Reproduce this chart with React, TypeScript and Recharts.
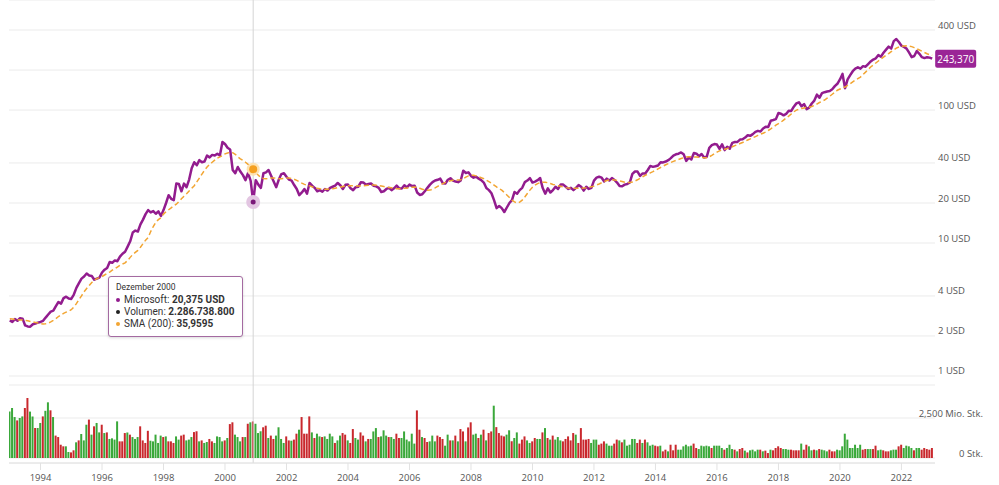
import { ComposedChart, Line, Bar, Cell, XAxis, YAxis, CartesianGrid, ReferenceLine, ReferenceDot } from "recharts";

const FONT = '"Open Sans", sans-serif';
const TIP_FONT = "Roboto, sans-serif";
const PURPLE = "#921c8e";
const ORANGE = "#f2a532";
const GREEN = "#3aa83a";
const RED = "#c9282d";

// monthly closes in USD, Jan 1993 .. Jan 2023
const close9397 = [
  2.62, 2.55, 2.68, 2.6, 2.72, 2.7, 2.4, 2.36, 2.35, 2.45, 2.48, 2.52,
  2.55, 2.6, 2.75, 2.9, 3.05, 3.1, 3.35, 3.6, 3.5, 3.85, 3.95, 3.82,
  3.8, 4.1, 4.6, 5.0, 5.4, 5.6, 5.9, 5.7, 5.65, 5.3, 5.4, 5.5,
  6.0, 6.3, 6.5, 7.2, 7.1, 7.4, 7.3, 7.9, 8.3, 8.6, 9.4, 10.3,
  12.0, 12.4, 12.2, 13.8, 15.0, 16.5, 17.7, 17.0, 17.4, 16.6, 17.3, 16.0,
];
const close9802 = [
  17.7, 20.0, 22.9, 21.5, 21.0, 28.0, 27.8, 24.5, 28.0, 26.3, 30.0, 36.5,
  40.5, 38.5, 42.0, 40.5, 41.0, 45.5, 44.0, 46.0, 45.5, 47.0, 45.5, 57.5,
  55.5, 52.0, 50.5, 35.5, 33.5, 37.3, 34.5, 32.4, 29.7, 33.6, 29.5, 20.375,
  29.7, 27.5, 26.0, 33.5, 34.0, 35.4, 32.0, 29.0, 26.3, 30.0, 33.0, 33.5,
  31.5, 30.0, 29.5, 27.3, 25.5, 22.9, 24.0, 25.5, 23.5, 28.3, 27.0, 26.0,
];
const close0307 = [
  24.5, 25.0, 24.3, 25.5, 24.8, 26.0, 26.5, 27.0, 28.3, 27.2, 25.5, 27.4,
  27.5, 25.8, 25.0, 26.3, 26.5, 28.6, 28.5, 27.5, 27.8, 28.0, 27.0, 26.7,
  26.0, 24.2, 24.5, 25.5, 26.0, 25.0, 25.8, 27.0, 25.8, 25.7, 27.2, 26.2,
  27.5, 26.8, 27.0, 24.0, 23.0, 23.3, 24.5, 26.0, 27.5, 28.7, 29.5, 29.9,
  30.5, 28.2, 28.0, 29.9, 30.7, 29.5, 29.0, 28.7, 29.5, 35.0, 33.6, 34.0,
];
const close0812 = [
  32.0, 31.0, 31.5, 30.5, 29.7, 28.5, 25.9, 25.0, 23.7, 21.0, 18.3, 19.0,
  18.3, 17.1, 18.5, 20.0, 21.0, 24.2, 23.5, 25.0, 26.0, 28.7, 29.5, 30.8,
  28.5, 29.0, 29.7, 30.8, 25.9, 23.5, 25.8, 24.0, 25.0, 26.5, 25.5, 27.5,
  27.5, 26.5, 25.5, 26.0, 25.0, 26.0, 27.3, 26.5, 24.8, 26.5, 25.5, 26.0,
  29.5, 31.0, 31.5, 31.0, 29.0, 30.5, 29.5, 30.8, 29.8, 28.5, 26.8, 26.7,
];
const close1317 = [
  27.5, 27.8, 28.6, 33.1, 34.5, 34.5, 32.0, 33.4, 33.3, 35.4, 38.0, 37.4,
  37.8, 38.3, 40.5, 40.4, 41.0, 42.0, 43.5, 45.5, 46.5, 47.0, 48.0, 46.5,
  41.5, 43.9, 42.5, 47.5, 47.0, 45.0, 46.7, 44.0, 44.5, 52.0, 54.4, 55.5,
  55.0, 51.0, 55.2, 50.0, 53.0, 51.2, 56.7, 57.5, 57.6, 60.0, 60.3, 62.1,
  64.7, 64.0, 65.9, 68.5, 69.8, 68.9, 72.7, 74.8, 74.5, 83.2, 84.2, 85.5,
];
const close1823 = [
  95.0, 93.8, 91.3, 93.5, 98.8, 98.6, 106.1, 112.3, 114.4, 106.8, 110.9, 101.6,
  104.4, 112.0, 117.9, 130.6, 123.7, 134.0, 136.3, 137.9, 139.0, 143.4, 151.4, 157.7,
  170.0, 187.0, 146.0, 170.0, 183.0, 196.0, 205.0, 210.0, 205.0, 214.0, 212.0, 222.0,
  232, 240, 245, 259, 252, 270, 285, 300, 290, 330, 342, 325,
  305, 298, 290, 270, 250, 255, 278, 265, 250, 246, 250, 248,
  243.37,
];

// 200-day moving average as drawn
const sma9397 = [
  2.7, 2.68, 2.66, 2.65, 2.64, 2.64, 2.62, 2.6, 2.57, 2.55, 2.53, 2.5,
  2.47, 2.46, 2.47, 2.5, 2.55, 2.62, 2.7, 2.8, 2.88, 2.96, 3.02, 3.08,
  3.15, 3.3, 3.5, 3.75, 4.0, 4.3, 4.55, 4.8, 5.05, 5.25, 5.4, 5.5,
  5.6, 5.75, 5.9, 6.05, 6.25, 6.4, 6.6, 6.8, 6.95, 7.1, 7.4, 7.8,
  8.2, 8.5, 8.8, 9.3, 9.9, 10.5, 11.0, 12.2, 13.3, 14.3, 15.0, 15.5,
];
const sma9802 = [
  16.5, 17.2, 17.8, 18.4, 19.0, 19.6, 20.5, 21.5, 22.5, 23.5, 24.6, 25.8,
  27.0, 28.8, 30.8, 33.0, 35.2, 37.3, 39.0, 40.5, 42.0, 43.5, 44.5, 45.5,
  46.8, 47.6, 48.0, 47.8, 46.5, 44.5, 43.0, 41.8, 40.5, 39.0, 37.5, 35.9595,
  34.0, 32.3, 31.2, 30.6, 30.4, 30.6, 30.8, 30.9, 30.7, 30.5, 30.5, 30.6,
  30.8, 30.8, 30.6, 30.2, 29.6, 28.9, 28.2, 27.6, 27.3, 26.9, 26.5, 26.1,
];
const sma0307 = [
  25.8, 25.6, 25.5, 25.4, 25.4, 25.5, 25.6, 25.8, 26.1, 26.3, 26.6, 26.9,
  27.0, 27.0, 26.9, 26.8, 26.8, 26.9, 27.0, 27.1, 27.2, 27.3, 27.3, 27.2,
  27.0, 26.8, 26.6, 26.4, 26.2, 26.0, 25.8, 25.6, 25.6, 25.7, 25.8, 25.9,
  26.1, 26.3, 26.4, 26.2, 25.8, 25.4, 25.0, 24.9, 25.0, 25.4, 26.0, 26.7,
  27.3, 28.0, 28.6, 29.0, 29.4, 29.7, 29.8, 29.8, 29.9, 30.5, 31.3, 32.0,
];
const sma0812 = [
  32.3, 32.3, 32.0, 31.5, 31.0, 30.5, 29.7, 29.0, 28.2, 27.3, 26.4, 25.6,
  25.0, 24.0, 23.0, 22.0, 21.0, 20.4, 20.0, 20.3, 21.0, 22.2, 23.6, 25.0,
  26.3, 27.3, 28.0, 28.5, 28.7, 28.7, 28.4, 28.0, 27.6, 27.3, 27.0, 26.7,
  26.4, 26.1, 25.9, 25.8, 25.8, 25.8, 25.8, 25.8, 25.9, 26.0, 26.2, 26.5,
  26.8, 27.3, 27.8, 28.4, 29.0, 29.5, 29.8, 29.9, 29.8, 29.6, 29.3, 29.0,
];
const sma1317 = [
  28.7, 28.5, 28.5, 28.8, 29.3, 29.9, 30.7, 31.5, 32.3, 33.0, 33.7, 34.4,
  35.2, 36.1, 37.0, 37.9, 38.8, 39.6, 40.4, 41.1, 41.8, 42.5, 43.2, 43.8,
  44.3, 44.5, 44.5, 44.4, 44.3, 44.2, 44.0, 43.7, 43.8, 44.5, 45.6, 47.0,
  48.3, 49.3, 50.0, 50.7, 51.4, 52.3, 53.0, 54.0, 55.0, 56.0, 57.0, 58.3,
  59.5, 60.7, 62.0, 63.2, 64.5, 65.8, 67.0, 68.3, 70.2, 72.3, 74.6, 77.0,
];
const sma1823 = [
  79.0, 81.2, 84.0, 87.0, 90.0, 93.5, 97.0, 100.0, 101.5, 102.8, 103.8, 104.5,
  105, 106.5, 108.5, 111, 114, 116.5, 119, 123, 127, 131.5, 136, 141,
  144, 146.5, 149, 153.5, 158, 163, 168, 172.5, 177, 185, 193, 202,
  211, 218, 226, 234, 242, 250, 258, 266, 275, 283, 292, 298,
  302, 303, 304, 303, 300, 295, 289, 283, 277, 271, 265, 261,
  258,
];

// monthly volume, million shares
const vol9397 = [
  2900, 3125, 2560, 2350, 2500, 2600, 3125, 3750, 2900, 2600, 1875, 1875,
  2190, 2600, 2950, 3480, 2980, 2560, 1400, 1310, 830, 730, 730, 375,
  350, 480, 980, 1100, 1500, 1100, 2080, 2400, 1460, 1980, 2190, 1600,
  2080, 1560, 1600, 1190, 1230, 1150, 2290, 1040, 1040, 1560, 1600, 1460,
  1310, 1190, 1310, 1980, 1100, 940, 1700, 1080, 1040, 1460, 940, 1400,
];
const vol9802 = [
  1310, 1350, 1040, 1040, 940, 1350, 1150, 1400, 1460, 1100, 1150, 1310,
  1620, 1670, 1040, 1100, 940, 1000, 1190, 1040, 940, 1350, 1310, 1040,
  1100, 1250, 2120, 2230, 1460, 1310, 1040, 1310, 1310, 2140, 2230, 2286.7388,
  2140, 1560, 1670, 1920, 2020, 1250, 1400, 1190, 1400, 1920, 1190, 940,
  1350, 1100, 1080, 1150, 1520, 1770, 2560, 1520, 1520, 2600, 1600, 1250,
];
const vol0307 = [
  1520, 1350, 1310, 1350, 1190, 1520, 1350, 940, 1100, 1400, 1560, 1460,
  1100, 940, 1810, 1250, 1150, 1600, 1400, 1040, 1190, 1190, 1660, 1870,
  1310, 1350, 1730, 1400, 1310, 1310, 1190, 1520, 1250, 1250, 1660, 1150,
  1040, 1520, 900, 2975, 1770, 1310, 1250, 1000, 1040, 1400, 1040, 1400,
  1310, 1190, 770, 1460, 1100, 1100, 1400, 1040, 1810, 1660, 1040, 1910,
];
const vol0812 = [
  2230, 1460, 1520, 1250, 1460, 1770, 1100, 1560, 1660, 3270, 1930, 1560,
  1400, 1350, 1460, 1730, 1040, 1250, 1600, 900, 1150, 1350, 1100, 940,
  1040, 1250, 1190, 1190, 1600, 1870, 1250, 1150, 1400, 1150, 1310, 1100,
  1040, 1190, 1350, 1100, 1560, 1460, 940, 1870, 1150, 1150, 1190, 940,
  1150, 1150, 830, 900, 1040, 900, 770, 770, 900, 1150, 1100, 980,
];
const vol1317 = [
  1150, 770, 830, 1190, 1190, 940, 1150, 940, 1150, 980, 770, 830,
  770, 730, 770, 415, 520, 415, 830, 480, 830, 520, 520, 730,
  830, 730, 770, 900, 625, 560, 770, 730, 770, 730, 625, 770,
  770, 770, 625, 520, 625, 830, 560, 520, 415, 560, 625, 460,
  350, 480, 520, 415, 520, 520, 415, 460, 310, 520, 480, 625,
];
const vol1823 = [
  730, 625, 560, 560, 520, 520, 480, 480, 480, 900, 520, 830,
  730, 480, 520, 480, 560, 520, 480, 415, 520, 415, 415, 520,
  480, 730, 1520, 1150, 625, 625, 830, 625, 830, 520, 560, 560,
  560, 560, 770, 480, 520, 480, 415, 415, 480, 520, 520, 730,
  830, 625, 770, 730, 625, 480, 625, 625, 520, 625, 560, 520,
  625,
];

// bar colour per month: g = up, r = down
const volDir = [
  "gggrggrrggrg", "grggrgrrrrgg", "rrgrgggrgrgg", "rgrggggrrrgr", "gggrrrrggggg",
  "rgrrrggrrggg", "rrgrggrrgggg", "rgrrgggrgrgr", "gggrrgrrgggg", "rrgrrgrrrrgr",
  "ggrggggrggrr", "grrggrrgrggg", "rgggrggrrggg", "gggrrgrrgggr", "rrggrgrgrrgr",
  "rggrgrgrrgrr", "rrggrggrrrgg", "rrggrgrgrggg", "rrrrrgrrrrrg", "ggrrrgggrrgr",
  "gggggrrgrggg", "rrgrrgrrrggg", "gggrrgggggrg", "gggrgggrgrrg", "rggggrgrrgrr",
  "rrgggrrrrgrr", "ggrgrgggrrrg", "gggggggggrrg", "grrggrrrgggr", "rggggrggrrrr",
  "r",
].join("");

const yearTicks = [1994, 1996, 1998, 2000, 2002, 2004, 2006, 2008, 2010, 2012, 2014, 2016, 2018, 2020, 2022];
const priceTicks = [1, 2, 4, 10, 20, 40, 100, 200, 400];
const volTicks = [0, 2500];

const FIRST_YEAR = 1993;
const HOVER = 95; // Dezember 2000

const prices = [...close9397, ...close9802, ...close0307, ...close0812, ...close1317, ...close1823];
const smas = [...sma9397, ...sma9802, ...sma0307, ...sma0812, ...sma1317, ...sma1823];
const vols = [...vol9397, ...vol9802, ...vol0307, ...vol0812, ...vol1317, ...vol1823];

const data = prices.map((p, i) => ({ i, price: p, sma: smas[i], vol: vols[i], up: volDir[i] === "g" }));
const last = data[data.length - 1];
const hover = data[HOVER];

const X_DOMAIN = [-0.3, 361.1];
const yearPos = yearTicks.map((y) => (y - FIRST_YEAR) * 12);

const deNum = (v: number) => String(v).replace(".", ",");
const deInt = (v: number) => String(Math.round(v)).replace(/\B(?=(\d{3})+(?!\d))/g, ".");
const deThousands = (v: number) => String(v).replace(/\B(?=(\d{3})+(?!\d))/g, ",");

const PriceTick = ({ x, y, payload }: any) =>
  payload.value === 200 ? null : (
    <text x={x + 3} y={y - 5} fill="#555" fontSize={9.5} fontFamily={FONT} dominantBaseline="central" textAnchor="start">
      {payload.value} USD
    </text>
  );

const VolTick = ({ x, y, payload }: any) => (
  <text x={x + 48} y={y - 5} fill="#555" fontSize={9.5} fontFamily={FONT} dominantBaseline="central" textAnchor="end">
    {payload.value === 0 ? "0 Stk." : `${deThousands(payload.value)} Mio. Stk.`}
  </text>
);

const YearTick = ({ x, y, payload }: any) => (
  <text x={x} y={y + 5} fill="#555" fontSize={9.5} fontFamily={FONT} dominantBaseline="central" textAnchor="middle">
    {FIRST_YEAR + payload.value / 12}
  </text>
);

const HaloDot = (color: string, halo: string, r: number, rh: number) => ({ cx, cy }: any) => (
  <g>
    <circle cx={cx} cy={cy} r={rh} fill={halo} />
    <circle cx={cx} cy={cy} r={r} fill={color} />
  </g>
);

const ValueTag = ({ cx, cy }: any) => (
  <g>
    <rect x={cx + 3} y={cy - 9} width={41} height={18} rx={2} fill="#9a2596" />
    <text x={cx + 23.5} y={cy} fill="#fff" fontSize={10} fontFamily={FONT} textAnchor="middle" dominantBaseline="central">
      {deNum(last.price)}0
    </text>
  </g>
);

const Bullet = ({ color }: { color: string }) => (
  <span style={{ display: "inline-block", width: 4, height: 4, borderRadius: 2, background: color, marginRight: 4, verticalAlign: "middle" }} />
);

const tipRow = (top: number) => ({
  position: "absolute" as const,
  left: 7,
  top,
  fontSize: 10,
  lineHeight: "12px",
  fontFamily: TIP_FONT,
});

export default function App() {
  return (
    <div style={{ position: "absolute", left: 0, top: 0, width: 999, height: 485, background: "#fff", fontFamily: FONT }}>
      <div style={{ position: "absolute", left: 0, top: 0 }}>
        <ComposedChart width={999} height={385} data={data} margin={{ top: 0, right: 0, bottom: 0, left: 9 }}>
          <CartesianGrid vertical={false} stroke="#ebebeb" />
          <XAxis dataKey="i" type="number" domain={X_DOMAIN} allowDataOverflow hide />
          <YAxis
            orientation="right"
            scale="log"
            type="number"
            domain={[0.8555, 672.7]}
            allowDataOverflow
            ticks={priceTicks}
            width={64}
            axisLine={false}
            tickLine={false}
            tickSize={0}
            tickMargin={0}
            tick={<PriceTick />}
          />
          <ReferenceLine x={HOVER} stroke="#d5d5d5" />
          <Line type="linear" dataKey="price" stroke={PURPLE} strokeWidth={2.5} strokeLinejoin="round" dot={false} isAnimationActive={false} />
          <Line type="linear" dataKey="sma" stroke={ORANGE} strokeWidth={1.5} strokeDasharray="5 3" dot={false} isAnimationActive={false} />
          <ReferenceDot x={HOVER} y={hover.price} shape={HaloDot("#7a1878", "#e3c6e2", 2.5, 7)} />
          <ReferenceDot x={HOVER} y={hover.sma} shape={HaloDot("#f5a020", "#fde2b2", 4, 6.5)} />
          <ReferenceDot x={last.i} y={last.price} ifOverflow="visible" shape={<ValueTag />} />
        </ComposedChart>
      </div>
      <div style={{ position: "absolute", left: 0, top: 385 }}>
        <ComposedChart width={999} height={100} data={data} margin={{ top: 0, right: 0, bottom: 0, left: 9 }}>
          <CartesianGrid vertical={false} stroke="#ebebeb" />
          <XAxis
            dataKey="i"
            type="number"
            domain={X_DOMAIN}
            allowDataOverflow
            ticks={yearPos}
            height={22}
            axisLine={{ stroke: "#e2e2e2" }}
            tickLine={{ stroke: "#e2e2e2" }}
            tickSize={7}
            tick={<YearTick />}
          />
          <YAxis
            orientation="right"
            type="number"
            domain={[-312.5, 4562.5]}
            allowDataOverflow
            ticks={volTicks}
            width={64}
            axisLine={false}
            tickLine={false}
            tickSize={0}
            tickMargin={0}
            tick={<VolTick />}
          />
          <ReferenceLine x={HOVER} stroke="#d5d5d5" />
          <Bar dataKey="vol" barSize={2} isAnimationActive={false}>
            {data.map((d) => (
              <Cell key={d.i} fill={d.up ? GREEN : RED} />
            ))}
          </Bar>
        </ComposedChart>
      </div>
      <div
        style={{
          position: "absolute",
          left: 108,
          top: 276,
          width: 133,
          height: 59,
          background: "#fff",
          border: "1px solid #a46aa1",
          borderRadius: 3,
          boxShadow: "0 1px 3px rgba(0,0,0,0.15)",
          color: "#333",
          whiteSpace: "nowrap",
        }}
      >
        <div style={{ ...tipRow(5), fontSize: 8.5, lineHeight: "11px" }}>Dezember 2000</div>
        <div style={tipRow(17)}>
          <Bullet color={PURPLE} />Microsoft: <b>{deNum(hover.price)} USD</b>
        </div>
        <div style={tipRow(29)}>
          <Bullet color="#222" />Volumen: <b>{deInt(hover.vol * 1e6)}</b>
        </div>
        <div style={tipRow(41)}>
          <Bullet color={ORANGE} />SMA (200): <b>{deNum(hover.sma)}</b>
        </div>
      </div>
    </div>
  );
}
